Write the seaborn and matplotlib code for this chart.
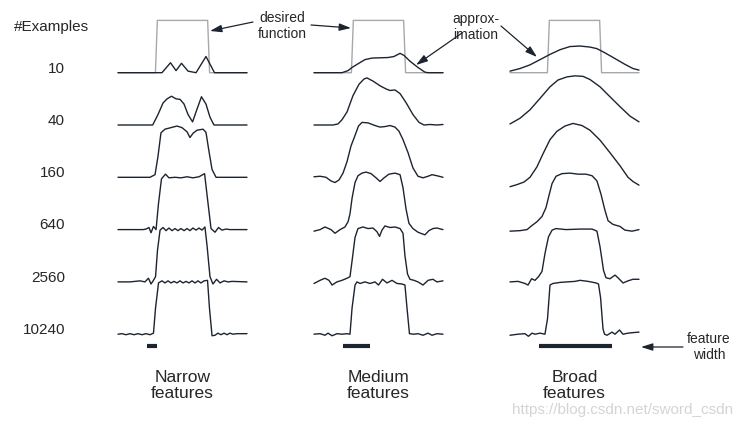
import numpy as np
import pandas as pd
import matplotlib.pyplot as plt
import seaborn as sns

sns.set_style("white")
plt.rcParams['font.family'] = ['Liberation Sans', 'DejaVu Sans']

# Etiquetas
examples = ["10", "40", "160", "640", "2560", "10240"]
widths = ["Narrow", "Medium", "Broad"]
feature_width = [0.078, 0.209, 0.566]   # ancho del rasgo (fracción del dominio)

# Función deseada (onda cuadrada)
desired_x = [0, 0.29, 0.305, 0.695, 0.71, 1]
desired_y = [0, 0, 1, 1, 0, 0]

# Aproximaciones aprendidas - rasgos estrechos
narrow_10_x = [0, .341, .407, .450, .492, .543, .605, .682, .748, 1]
narrow_10_y = [0, 0, .19, .04, .18, .03, 0, .31, 0, 0]
narrow_40_x = [0, .269, .310, .349, .380, .415, .450, .481, .512, .543, .578, .612, .647, .682, .713, .744, 1]
narrow_40_y = [0, 0, .2, .42, .5, .55, .5, .49, .4, .2, .06, .3, .54, .4, .15, 0, 0]
narrow_160_x = [0, .248, .287, .310, .333, .364, .411, .457, .496, .535, .558, .581, .612, .659, .682, .705, .729, .760, 1]
narrow_160_y = [0, 0, .05, .4, .85, .92, .95, .98, .95, .87, .76, .84, .9, .92, .86, .5, .15, 0, 0]
narrow_640_x = [0, .194, .217, .240, .256, .275, .295, .314, .337, .368, .395, .442, .488, .535, .581, .628, .671,
                .698, .721, .752, .779, .806, .837, .868, 1]
narrow_640_y = [0, 0, .01, .04, -.06, .06, 0, .5, .97, 1.06, .99, 1, .99, 1.01, .99, 1.01, 1.07,
                .5, .02, -.05, .04, -.01, .01, 0, 0]
narrow_2560_x = [0, .093, .171, .209, .236, .256, .275, .291, .306, .326, .349, .372, .395, .419, .442, .465, .488,
                 .512, .535, .558, .581, .605, .628, .651, .674, .690, .713, .736, .764, .791, .822, .853, .884, 1]
narrow_2560_y = [0, 0, .02, 0, .07, -.04, .03, .1, .6, .99, 1.04, .98, 1.03, .98, 1.02, .98, 1.02,
                 .98, 1.02, .98, 1.03, .99, 1.03, .99, 1.05, .7, .1, -.04, .05, -.02, .02, 0, .01, 0]
narrow_10240_x = [0, .031, .062, .093, .124, .155, .186, .217, .248, .275, .291, .314, .341, .364, .388, .411, .434,
                  .457, .481, .504, .527, .550, .574, .597, .620, .643, .667, .694, .709, .729, .752, .775, .798,
                  .822, .845, .868, .891, .922, 1]
narrow_10240_y = [0, .01, -.01, .01, -.01, .01, -.01, .01, -.01, .02, .5, .98, 1.02, .98, 1.02, .98, 1.01,
                  .98, 1.02, .98, 1.01, .98, 1.02, .98, 1.02, .98, 1.02, 1.03, .5, -.03, -.02, .02, -.01,
                  .02, -.01, .02, 0, .01, .01]

# Rasgos medianos
medium_10_x = [0, .217, .264, .295, .341, .395, .450, .512, .574, .620, .667, .698, .744, .806, .860, .884, 1]
medium_10_y = [0, 0, .04, .1, .17, .25, .28, .285, .29, .31, .37, .33, .22, .1, .01, 0, 0]
medium_40_x = [0, .147, .186, .217, .256, .302, .349, .388, .411, .457, .512, .558, .589, .628, .667, .713, .767,
               .814, .853, .899, .953, 1]
medium_40_y = [0, 0, .02, .1, .25, .56, .78, .88, .9, .84, .75, .69, .66, .67, .6, .43, .2,
               .05, 0, .01, 0, .01]
medium_160_x = [0, .047, .093, .132, .163, .194, .225, .256, .287, .318, .345, .372, .419, .473, .512, .550, .589,
                .628, .659, .690, .729, .767, .806, .845, .884, .915, .953, 1]
medium_160_y = [.01, .02, 0, -.07, -.1, -.05, .08, .3, .6, .8, .98, 1.05, 1.04, .99, .96, .97, .99,
                .96, .88, .72, .47, .18, .02, -.01, .02, .05, .03, 0]
medium_640_x = [0, .047, .085, .132, .163, .202, .240, .264, .279, .295, .318, .341, .372, .403, .442, .481, .512,
                .543, .581, .628, .667, .690, .713, .736, .767, .806, .837, .860, .891, .922, .953, 1]
medium_640_y = [-.03, 0, .05, 0, -.07, 0, .05, .15, .3, .6, .9, 1.03, 1.08, 1.1, 1.07, .99, .92,
                .99, 1.06, 1.08, 1.05, .8, .4, .12, .02, -.05, -.08, -.1, -.02, .02, .03, 0]
medium_2560_x = [0, .047, .085, .116, .140, .178, .217, .256, .279, .295, .318, .341, .380, .419, .457, .488, .508,
                 .527, .550, .589, .628, .667, .690, .705, .725, .744, .775, .806, .845, .884, .922, .953, 1]
medium_2560_y = [-.03, .03, .07, .03, -.06, 0, .03, .07, .1, .4, .85, 1.02, 1.05, 1.02, 1.03, .96, .87,
                 .99, 1.07, 1.04, 1.05, 1.02, .93, .5, .15, .05, .03, 0, -.06, .03, .05, 0, .02]
medium_10240_x = [0, .047, .085, .109, .140, .178, .217, .256, .279, .295, .318, .333, .357, .395, .434, .473, .500,
                  .531, .566, .605, .643, .682, .705, .721, .740, .775, .806, .845, .884, .915, .953, 1]
medium_10240_y = [0, .01, -.02, .02, -.03, .01, 0, .01, 0, .5, .94, 1, .97, 1, .97, 1, .94,
                  1.05, .98, 1.03, .97, .96, .94, .5, .01, 0, .01, -.02, .02, -.02, .01, 0]

# Rasgos anchos
broad_10_x = [0, .078, .155, .233, .310, .388, .465, .543, .620, .674, .736, .814, .891, .953, 1]
broad_10_y = [.03, .08, .15, .25, .35, .44, .5, .51, .49, .46, .38, .27, .16, .08, .05]
broad_40_x = [0, .078, .155, .233, .310, .372, .442, .504, .566, .620, .698, .775, .853, .930, 1]
broad_40_y = [.02, .13, .29, .51, .73, .86, .92, .94, .93, .87, .73, .54, .35, .17, .06]
broad_160_x = [0, .054, .109, .155, .209, .256, .310, .364, .426, .488, .558, .620, .698, .775, .853, .915, .953, 1]
broad_160_y = [-.18, -.14, -.09, 0, .2, .45, .72, .88, .98, 1.03, .99, .9, .71, .47, .22, 0, -.08, -.15]
broad_640_x = [0, .078, .132, .171, .209, .248, .279, .302, .326, .357, .403, .465, .527, .589, .636, .674, .705,
               .736, .760, .798, .853, .891, .946, 1]
broad_640_y = [-.03, -.02, 0, .08, .15, .25, .42, .65, .88, 1.02, 1.07, 1.08, 1.06, 1.06, 1.03, .93, .68,
               .37, .17, .1, .06, -.01, -.03, 0]
broad_2560_x = [0, .062, .116, .140, .167, .194, .221, .248, .271, .298, .326, .357, .434, .543, .636, .674, .698,
                .725, .744, .775, .814, .841, .876, .915, .953, 1]
broad_2560_y = [0, .01, -.03, -.06, .06, .03, .1, .2, .54, .86, .99, 1.02, 1, 1.01, 1.01, .97, .67,
                .22, .08, .06, .13, .07, -.02, .02, .05, .05]
broad_10240_x = [0, .062, .116, .143, .171, .194, .233, .271, .291, .310, .333, .388, .442, .504, .543, .605, .667,
                 .686, .702, .721, .733, .752, .791, .814, .849, .876, .915, .953, 1]
broad_10240_y = [-.02, 0, .01, -.04, .02, 0, .02, 0, .3, .94, .97, .99, 1, 1.01, 1.03, 1.01, .98,
                 .96, .7, .1, 0, -.02, .04, 0, .08, 0, .02, .03, .04]

curves = {
    "Narrow": [(narrow_10_x, narrow_10_y), (narrow_40_x, narrow_40_y), (narrow_160_x, narrow_160_y),
               (narrow_640_x, narrow_640_y), (narrow_2560_x, narrow_2560_y), (narrow_10240_x, narrow_10240_y)],
    "Medium": [(medium_10_x, medium_10_y), (medium_40_x, medium_40_y), (medium_160_x, medium_160_y),
               (medium_640_x, medium_640_y), (medium_2560_x, medium_2560_y), (medium_10240_x, medium_10240_y)],
    "Broad": [(broad_10_x, broad_10_y), (broad_40_x, broad_40_y), (broad_160_x, broad_160_y),
              (broad_640_x, broad_640_y), (broad_2560_x, broad_2560_y), (broad_10240_x, broad_10240_y)],
}

# Disposición (en píxeles de la figura)
col_left = [118, 314, 510]
col_w = 129
base0 = 72.7
row_gap = 52.3
unit = 52.3

rows = []
for c, name in enumerate(widths):
    for r, (xs, ys) in enumerate(curves[name]):
        for x, y in zip(xs, ys):
            rows.append({"curve": f"{name}-{examples[r]}",
                         "px": col_left[c] + x * col_w,
                         "py": base0 + r * row_gap - y * unit})
df = pd.DataFrame(rows)

des = pd.DataFrame([{"curve": c, "px": col_left[c] + x * col_w, "py": base0 - y * unit}
                    for c in range(3) for x, y in zip(desired_x, desired_y)])

fig = plt.figure(figsize=(7.41, 4.28), dpi=100)
ax = fig.add_axes([0, 0, 1, 1])

sns.lineplot(data=des, x="px", y="py", units="curve", estimator=None, sort=False,
             color="#a8a8a8", lw=1.0, ax=ax)
sns.lineplot(data=df, x="px", y="py", units="curve", estimator=None, sort=False,
             color="#1c2430", lw=1.0, ax=ax)

# Barras de ancho de rasgo
for c in range(3):
    x0 = col_left[c] + 0.228 * col_w
    ax.plot([x0, x0 + feature_width[c] * col_w], [346, 346], color="#1c2430", lw=3, solid_capstyle="butt")

# Etiquetas de filas
ax.text(52, 27, "#Examples", ha="center", va="center", fontsize=11)
for r, lab in enumerate(examples):
    ax.text(65, 68.5 + r * row_gap, lab, ha="right", va="center", fontsize=11)

for c, name in enumerate(widths):
    ax.text(col_left[c] + 0.5 * col_w, 385.5, f"{name}\nfeatures", ha="center", va="center",
            fontsize=12.5, linespacing=1.0)

arrow = dict(arrowstyle="-|>,head_length=0.7,head_width=0.22", color="#1c2430", lw=0.9, shrinkA=0, shrinkB=0)
ax.text(282, 26, "desired\nfunction", ha="center", va="center", fontsize=10, linespacing=1.1)
ax.annotate("", xy=(210, 31), xytext=(253, 22), arrowprops=arrow)
ax.annotate("", xy=(351, 28), xytext=(311, 25), arrowprops=arrow)
ax.text(476, 27, "approx-\nimation", ha="center", va="center", fontsize=10, linespacing=1.1)
ax.annotate("", xy=(416, 65), xytext=(462, 33), arrowprops=arrow)
ax.annotate("", xy=(537, 57), xytext=(501, 26), arrowprops=arrow)
ax.text(709, 347, "feature\nwidth", ha="center", va="center", fontsize=10, linespacing=1.1)
ax.annotate("", xy=(641, 347), xytext=(683, 347), arrowprops=arrow)

ax.text(733, 410, "https://blog.csdn.net/sword_csdn", ha="right", va="center", fontsize=11, color="#d4d4d4")

ax.set_xlim(0, 741)
ax.set_ylim(428, 0)
ax.axis("off")
fig.savefig("out.png", dpi=100)
